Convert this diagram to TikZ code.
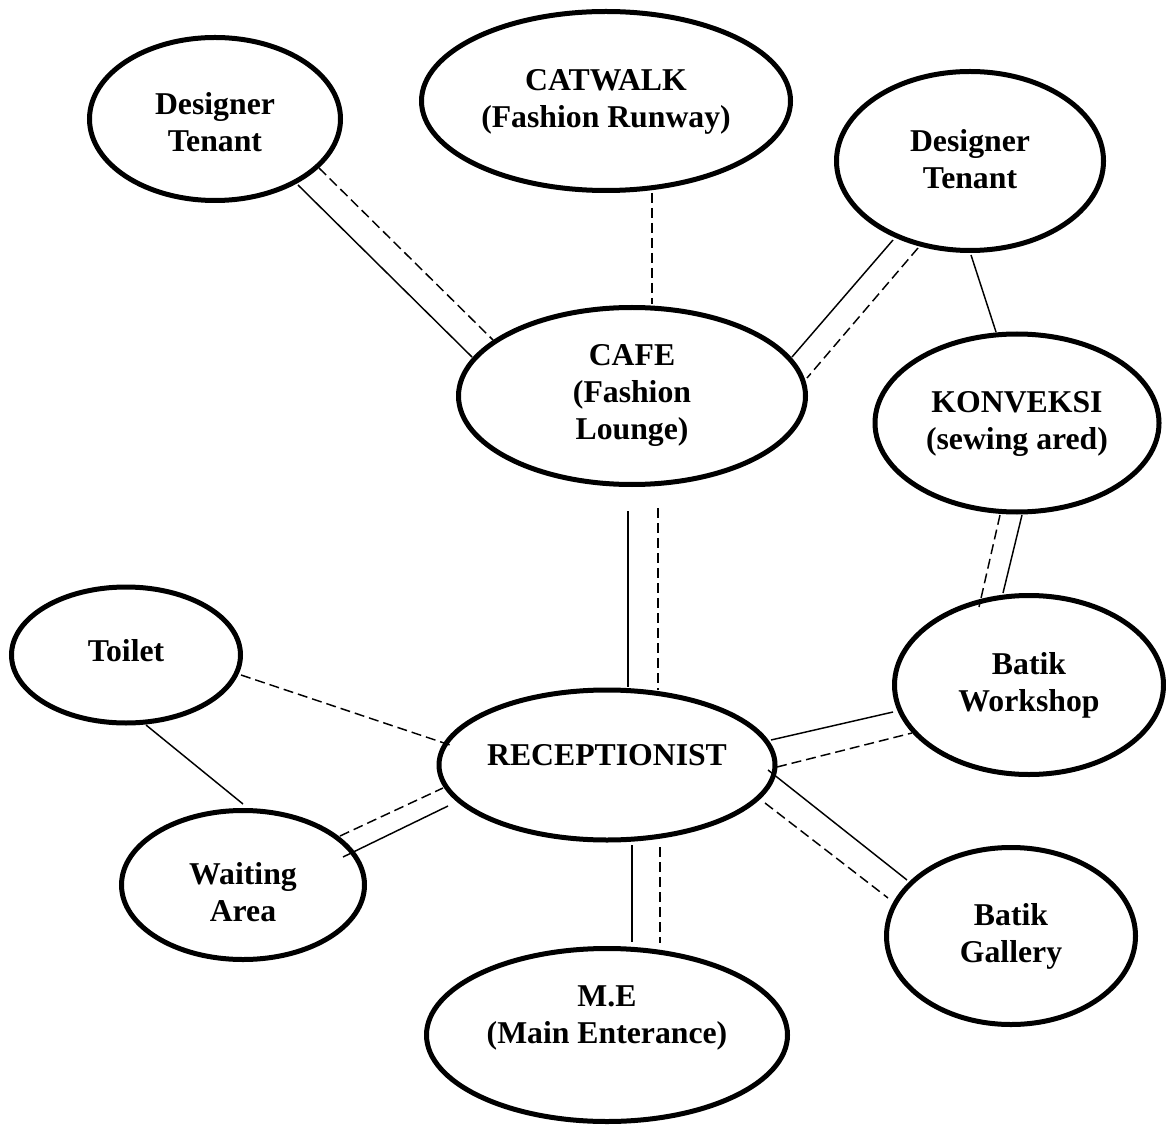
\documentclass[tikz,border=0pt]{standalone}
\usepackage{fontspec}
\setmainfont{Liberation Serif}
\usetikzlibrary{calc,shapes.geometric}
\newcommand\lbl[2]{\raisebox{#1}[\height][\depth]{\makebox[0pt]{\begin{tabular}{@{}c@{}}#2\end{tabular}}}}
\begin{document}
\begin{tikzpicture}[x=0.75pt,y=-0.75pt,
  bubble/.style 2 args={ellipse, draw, line width=3.75pt, inner sep=0pt, outer sep=0pt,
    minimum width={#1*0.75pt}, minimum height={#2*0.75pt},
    font=\fontsize{23.8}{27.75}\selectfont\bfseries},
  link/.style={line width=1.1pt},
  dlink/.style={line width=1.1pt, dash pattern=on 7.5pt off 3.75pt}]
\fill[white] (0,0) rectangle (1166,1126);
\useasboundingbox (0,0) rectangle (1166,1126);

% ellipses
\node[bubble={251}{163}] (dtl)    at (215,119)  {\lbl{-5.3pt}{Designer\\Tenant}};
\node[bubble={369}{179}] (cat)    at (606,101)  {\lbl{-0.8pt}{CATWALK\\(Fashion Runway)}};
\node[bubble={267}{179}] (dtr)    at (970,161)  {\lbl{-1.5pt}{Designer\\Tenant}};
\node[bubble={347}{177}] (cafe)   at (632,396)  {\lbl{1pt}{CAFE\\(Fashion\\Lounge)}};
\node[bubble={284}{178}] (konv)   at (1017,423) {\lbl{-0.7pt}{KONVEKSI\\(sewing ared)}};
\node[bubble={229}{136}] (toilet) at (126,655)  {\lbl{1pt}{Toilet}};
\node[bubble={336}{150}] (rec)    at (607,765)  {\lbl{5.5pt}{RECEPTIONIST}};
\node[bubble={269}{179}] (bw)     at (1029,685) {\lbl{-0.7pt}{Batik\\Workshop}};
\node[bubble={243}{149}] (wait)   at (243,885)  {\lbl{-8.3pt}{Waiting\\Area}};
\node[bubble={249}{177}] (bg)     at (1011,936) {\lbl{-0.7pt}{Batik\\Gallery}};
\node[bubble={361}{173}] (me)     at (607,1035) {\lbl{13.4pt}{M.E\\(Main Enterance)}};

% connectors
\draw[link]  ($(dtl)+(83,66)$)   -- ($(cafe)+(-160,-39)$);
\draw[dlink] ($(dtl)+(104,49)$)  -- ($(cafe)+(-139,-56)$);
\draw[dlink] ($(cat)+(46,92)$)   -- ($(cafe)+(20,-92)$);
\draw[link]  ($(dtr)+(-77,79)$)  -- ($(cafe)+(160,-39)$);
\draw[dlink] ($(dtr)+(-52,87)$)  -- ($(cafe)+(175,-18)$);
\draw[link]  ($(dtr)+(1,94)$)    -- ($(konv)+(-21,-91)$);
\draw[link]  ($(cafe)+(-4,115)$) -- ($(rec)+(21,-78)$);
\draw[dlink] ($(cafe)+(26,112)$) -- ($(rec)+(51,-75)$);
\draw[link]  ($(konv)+(5,92)$)   -- ($(bw)+(-26,-92)$);
\draw[dlink] ($(konv)+(-17,92)$) -- ($(bw)+(-50,-78)$);
\draw[dlink] ($(toilet)+(115,20)$) -- ($(rec)+(-154,-19)$);
\draw[link]  ($(toilet)+(20,70)$)  -- ($(wait)+(0,-81)$);
\draw[dlink] ($(wait)+(97,-49)$)   -- ($(rec)+(-164,23)$);
\draw[link]  ($(wait)+(100,-28)$)  -- ($(rec)+(-159,41)$);
\draw[link]  ($(rec)+(164,-25)$)   -- ($(bw)+(-136,27)$);
\draw[dlink] ($(rec)+(170,2)$)     -- ($(bw)+(-117,48)$);
\draw[link]  ($(rec)+(161,5)$)     -- ($(bg)+(-104,-56)$);
\draw[dlink] ($(rec)+(158,38)$)    -- ($(bg)+(-123,-38)$);
\draw[link]  ($(rec)+(25,80)$)     -- ($(me)+(25,-93)$);
\draw[dlink] ($(rec)+(53,82)$)     -- ($(me)+(53,-92)$);
\end{tikzpicture}
\end{document}
